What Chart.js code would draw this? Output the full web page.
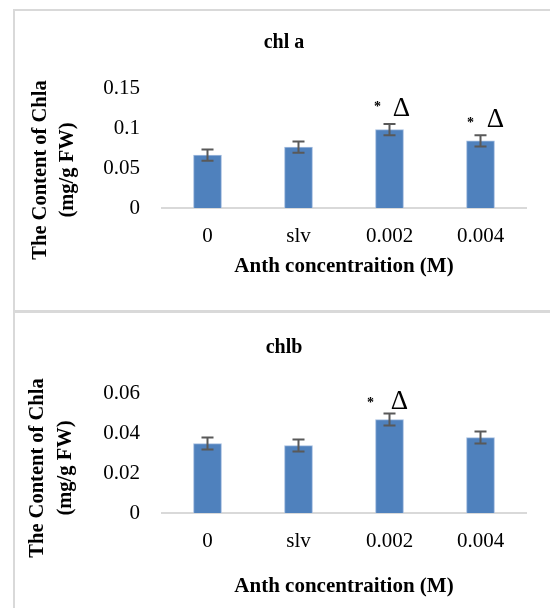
<!DOCTYPE html>
<html><head><meta charset="utf-8">
<script src="https://cdn.jsdelivr.net/npm/chart.js@4"></script>
<style>
html,body{margin:0;padding:0;background:#fff;width:550px;height:608px;overflow:hidden;position:relative}
.ln{position:absolute;background:#d9d9d9}
.wrap{position:absolute;left:0;width:550px}
canvas{display:block}
</style></head><body>
<div class="ln" style="left:13px;top:9px;width:537px;height:2px"></div>
<div class="ln" style="left:13px;top:9px;width:2px;height:599px"></div>
<div class="ln" style="left:13px;top:310px;width:537px;height:3px"></div>
<div class="wrap" style="top:0;height:311px"><canvas id="c1" width="550" height="311"></canvas></div>
<div class="wrap" style="top:311px;height:297px"><canvas id="c2" width="550" height="297"></canvas></div>
<script>
// ---- data ----
const categories = ['0', 'slv', '0.002', '0.004'];
const chlaValues = [0.066, 0.076, 0.098, 0.084];
const chlaErrors = [0.007, 0.007, 0.007, 0.007];
const chlaTickValues = [0, 0.05, 0.1, 0.15];
const chlaTickLabels = ['0', '0.05', '0.1', '0.15'];
const chlaMarks = ['', '', '*Δ', '*Δ'];

const chlbValues = [0.0347, 0.0337, 0.0467, 0.0377];
const chlbErrors = [0.003, 0.003, 0.003, 0.003];
const chlbTickValues = [0, 0.02, 0.04, 0.06];
const chlbTickLabels = ['0', '0.02', '0.04', '0.06'];
const chlbMarks = ['', '', '*Δ', ''];

const chartTitles = ['chl a', 'chlb'];
const yTitleLines = ['The Content of Chla', '(mg/g FW)'];
const xTitle = 'Anth concentraition (M)';

// ---- styles / layout ----
const SERIF = '"Liberation Serif", "Times New Roman", serif';
const markStyleA = [null, null, {sx:-12, sy:-20, dx:12, dy:-8}, {sx:-10, sy:-15, dx:15, dy:-8}];
const markStyleB = [null, null, {sx:-19, sy:-13, dx:10, dy:-5}, null];

const panelPlugin = {
  id: 'panel',
  afterDatasetsDraw(chart) {
    const p = chart.options.plugins.panel;
    const ctx = chart.ctx;
    const meta = chart.getDatasetMeta(0);
    const ys = chart.scales.y;
    // error bars
    ctx.save();
    ctx.strokeStyle = '#595959';
    ctx.lineWidth = 2;
    meta.data.forEach((bar, i) => {
      const v = p.values[i], e = p.errors[i];
      const yt = ys.getPixelForValue(v + e), yb = ys.getPixelForValue(v - e);
      const x = bar.x;
      ctx.beginPath();
      ctx.moveTo(x, yt); ctx.lineTo(x, yb);
      ctx.moveTo(x - 6, yt); ctx.lineTo(x + 6, yt);
      ctx.moveTo(x - 6, yb); ctx.lineTo(x + 6, yb);
      ctx.stroke();
    });
    // significance marks
    ctx.fillStyle = '#000';
    meta.data.forEach((bar, i) => {
      const m = p.marks[i]; const st = p.markStyle[i];
      if (!m || !st) return;
      const yt = ys.getPixelForValue(p.values[i] + p.errors[i]);
      ctx.textAlign = 'center';
      ctx.textBaseline = 'middle';
      ctx.font = 'bold 14px ' + SERIF;
      ctx.fillText(m.charAt(0), bar.x + st.sx, yt + st.sy + 3);
      ctx.textBaseline = 'alphabetic';
      ctx.font = '27px ' + SERIF;
      ctx.fillText(m.slice(1), bar.x + st.dx, yt + st.dy);
    });
    // titles
    ctx.textAlign = 'center';
    ctx.textBaseline = 'middle';
    ctx.font = 'bold 20px ' + SERIF;
    ctx.fillText(p.title, p.titleX, p.titleY);
    ctx.font = 'bold 21px ' + SERIF;
    const ca = chart.chartArea;
    ctx.fillText(xTitle, (ca.left + ca.right) / 2, p.xTitleY);
    ctx.font = 'bold 20.5px ' + SERIF;
    yTitleLines.forEach((t, k) => {
      ctx.save();
      ctx.translate(p.yTitleX[k], p.yTitleY);
      ctx.rotate(-Math.PI / 2);
      ctx.fillText(t, 0, 0);
      ctx.restore();
    });
    ctx.restore();
  }
};

function makeChart(id, o) {
  return new Chart(document.getElementById(id), {
    type: 'bar',
    data: {
      labels: categories,
      datasets: [{
        data: o.values,
        backgroundColor: '#4f81bd',
        borderColor: '#a3bddf',
        borderWidth: 1,
        barThickness: 28
      }]
    },
    options: {
      responsive: false,
      animation: false,
      devicePixelRatio: 1,
      layout: { padding: { left: 0, right: 24, top: o.top, bottom: 0 } },
      plugins: {
        legend: { display: false },
        tooltip: { enabled: false },
        title: { display: false },
        panel: o
      },
      scales: {
        x: {
          grid: { display: false, drawTicks: false },
          border: { display: true, color: '#d9d9d9', width: 2 },
          ticks: { font: { family: SERIF, size: 21 }, color: '#000', padding: 16 },
          afterFit(s) { s.height = o.height - o.bottom; }
        },
        y: {
          min: 0,
          max: o.tickValues[o.tickValues.length - 1],
          grid: { display: false, drawTicks: false },
          border: { display: false },
          afterBuildTicks(s) { s.ticks = o.tickValues.map(v => ({ value: v })); },
          ticks: {
            font: { family: SERIF, size: 21 }, color: '#000', padding: 22,
            callback: (v, i) => o.tickLabels[i]
          },
          afterFit(s) { s.width = 162; }
        }
      }
    },
    plugins: [panelPlugin]
  });
}

makeChart('c1', {
  values: chlaValues, errors: chlaErrors, tickValues: chlaTickValues, tickLabels: chlaTickLabels,
  marks: chlaMarks, markStyle: markStyleA, title: chartTitles[0],
  top: 88, bottom: 208, height: 311,
  titleX: 284, titleY: 43, xTitleY: 267, yTitleX: [41, 68], yTitleY: 170
});
makeChart('c2', {
  values: chlbValues, errors: chlbErrors, tickValues: chlbTickValues, tickLabels: chlbTickLabels,
  marks: chlbMarks, markStyle: markStyleB, title: chartTitles[1],
  top: 82, bottom: 202, height: 297,
  titleX: 284, titleY: 37, xTitleY: 276, yTitleX: [38, 66], yTitleY: 157
});
</script>
</body></html>
